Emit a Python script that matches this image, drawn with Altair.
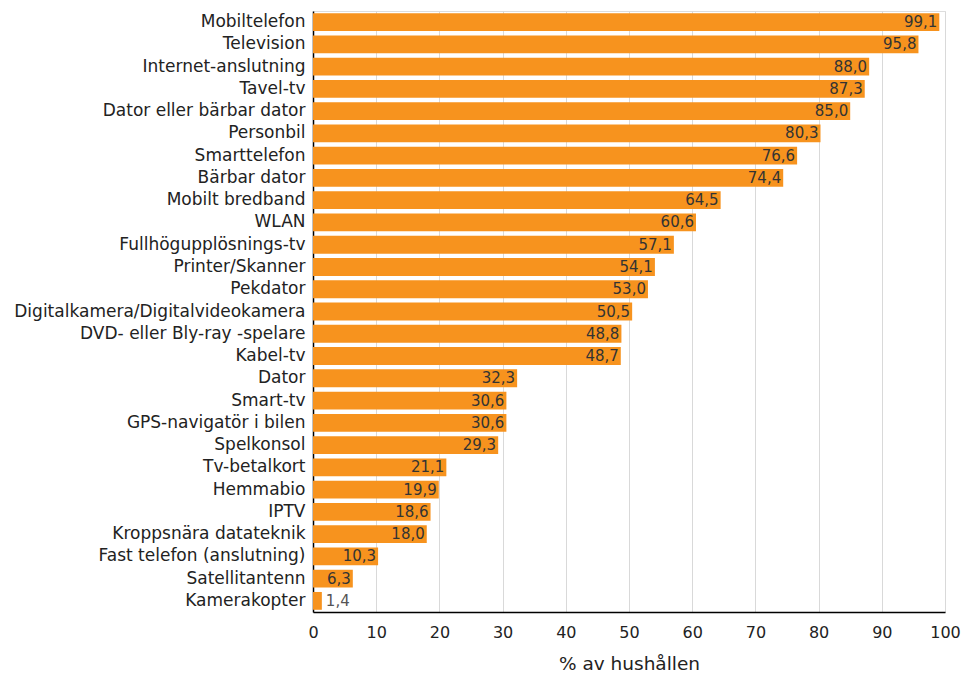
import altair as alt
import pandas as pd

categories = [
    "Mobiltelefon", "Television", "Internet-anslutning", "Tavel-tv",
    "Dator eller bärbar dator", "Personbil", "Smarttelefon", "Bärbar dator",
    "Mobilt bredband", "WLAN", "Fullhögupplösnings-tv", "Printer/Skanner",
    "Pekdator", "Digitalkamera/Digitalvideokamera", "DVD- eller Bly-ray -spelare",
    "Kabel-tv", "Dator", "Smart-tv", "GPS-navigatör i bilen", "Spelkonsol",
    "Tv-betalkort", "Hemmabio", "IPTV", "Kroppsnära datateknik",
    "Fast telefon (anslutning)", "Satellitantenn", "Kamerakopter",
]
values = [
    99.1, 95.8, 88.0, 87.3, 85.0, 80.3, 76.6, 74.4, 64.5, 60.6, 57.1, 54.1,
    53.0, 50.5, 48.8, 48.7, 32.3, 30.6, 30.6, 29.3, 21.1, 19.9, 18.6, 18.0,
    10.3, 6.3, 1.4,
]
x_ticks = [0, 10, 20, 30, 40, 50, 60, 70, 80, 90, 100]

df = pd.DataFrame({"cat": categories, "v": values})
FONT = "DejaVu Sans"

y = alt.Y("cat:N", sort=categories, title=None,
          scale=alt.Scale(paddingInner=0.2, paddingOuter=0.1),
          axis=alt.Axis(labelFont=FONT, labelFontSize=17, labelColor="#222",
                        ticks=False, domainColor="#000", domainWidth=1.5,
                        labelPadding=8, labelLimit=400))
x = alt.X("v:Q", title="% av hushållen",
          scale=alt.Scale(domain=[0, 100], nice=False),
          axis=alt.Axis(values=x_ticks, labelFont=FONT, labelFontSize=16,
                        labelColor="#222", titleFont=FONT, titleFontSize=18.5,
                        titleFontWeight="normal", titleColor="#222",
                        titlePadding=14, ticks=False, domainColor="#000",
                        domainWidth=1.5, gridColor="#d9d9d9", labelPadding=12,
                        labelFlush=False))

base = alt.Chart(df).transform_calculate(
    lab="replace(format(datum.v, '.1f'), '.', ',')"
)

bars = base.mark_bar(color="#F7931E").encode(x=x, y=y)

inside = base.transform_filter("datum.v >= 5").mark_text(
    align="right", dx=-2, font=FONT, fontSize=15, color="#333"
).encode(x="v:Q", y=alt.Y("cat:N", sort=categories), text="lab:N")

outside = base.transform_filter("datum.v < 5").mark_text(
    align="left", dx=4, font=FONT, fontSize=15, color="#555"
).encode(x="v:Q", y=alt.Y("cat:N", sort=categories), text="lab:N")

chart = alt.layer(bars, inside, outside).properties(
    width=632, height=601,
    autosize=alt.AutoSizeParams(type="none"),
    padding={"left": 313, "top": 11, "right": 19, "bottom": 62},
).configure_view(stroke=None).configure(background="white")

chart.save("out.html", embed_options={"renderer": "svg", "actions": False})
